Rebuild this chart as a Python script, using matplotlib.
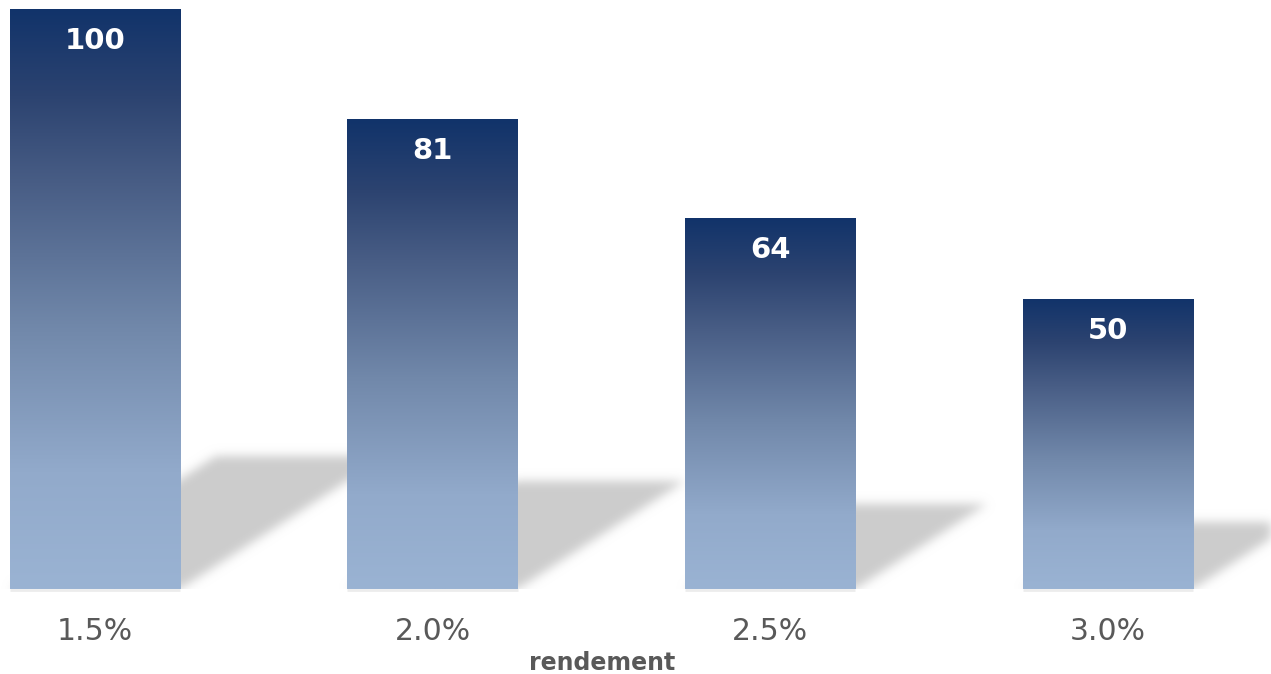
import numpy as np
import matplotlib
matplotlib.use("Agg")
import matplotlib.pyplot as plt
from matplotlib.path import Path
from matplotlib.colors import LinearSegmentedColormap

# data
categories = ["1.5%", "2.0%", "2.5%", "3.0%"]
values = [100, 81, 64, 50]
x_label = "rendement"

W, H = 1271, 674
fig = plt.figure(figsize=(W / 100, H / 100), dpi=100)
base_px = 589
ax = fig.add_axes([0, (H - base_px) / H, 1, base_px / H])

bar_w = 0.504
xlim = (-0.281, 3.484)
ylim = (0, 101.55)
ax.set_xlim(*xlim)
ax.set_ylim(*ylim)
ax.axis("off")

px_x = W / (xlim[1] - xlim[0])
px_y = base_px / (ylim[1] - ylim[0])

# blurred shadows behind the bars
nx, ny = W, base_px
gx = xlim[0] + (np.arange(nx) + 0.5) / px_x
gy = ylim[0] + (np.arange(ny) + 0.5) / px_y
XX, YY = np.meshgrid(gx, gy)
pts = np.column_stack([XX.ravel(), YY.ravel()])
mask = np.zeros(XX.size)
for i, v in enumerate(values):
    x0, x1 = i - bar_w / 2, i + bar_w / 2
    rise = 0.23 * v
    dx = 1.55 * rise * px_y / px_x
    poly = Path([(x0, 0), (x1, 0), (x1 + dx, rise), (x0 + dx, rise), (x0, 0)])
    mask = np.maximum(mask, poly.contains_points(pts).astype(float))
mask = mask.reshape(ny, nx)

sigma = 5
k = np.arange(-16, 17)
kern = np.exp(-k ** 2 / (2 * sigma ** 2))
kern /= kern.sum()
mask = np.apply_along_axis(lambda r: np.convolve(r, kern, mode="same"), 1, mask)
mask = np.apply_along_axis(lambda c: np.convolve(c, kern, mode="same"), 0, mask)

shadow = np.zeros((ny, nx, 4))
shadow[..., :3] = 0.8
shadow[..., 3] = mask
ax.imshow(shadow, origin="lower", extent=(*xlim, *ylim), aspect="auto",
          zorder=1, interpolation="bilinear")

# gradient bars
cmap = LinearSegmentedColormap.from_list(
    "bar", [(0, "#9ab3d3"), (0.2, "#92aacb"), (0.45, "#7188aa"),
            (0.7, "#485d85"), (0.85, "#2c4370"), (1, "#11336a")])
grad = np.linspace(0, 1, 256).reshape(-1, 1)
bars = ax.bar(range(len(values)), values, width=bar_w, color="none", zorder=2)
for i, (b, v) in enumerate(zip(bars, values)):
    x0 = b.get_x()
    im = ax.imshow(grad, cmap=cmap, origin="lower", aspect="auto",
                   extent=(x0, x0 + bar_w, 0, v), zorder=2,
                   interpolation="bilinear")
    im.set_clip_path(b)
    ax.plot([x0, x0 + bar_w], [-0.2, -0.2], color="#ececec", lw=2,
            clip_on=False, zorder=1.5, solid_capstyle="butt")
    ax.text(i, v - 32 / px_y, str(v), ha="center", va="center",
            color="white", fontsize=21, fontweight="bold", zorder=3)
    ax.text(i, -(631 - base_px) / px_y, categories[i], ha="center",
            va="center", color="#595959", fontsize=21.5, clip_on=False)

fig.text(602 / W, 1 - 663 / H, x_label, ha="center", va="center",
         color="#595959", fontsize=17, fontweight="bold")

fig.savefig("out.png", dpi=100)
